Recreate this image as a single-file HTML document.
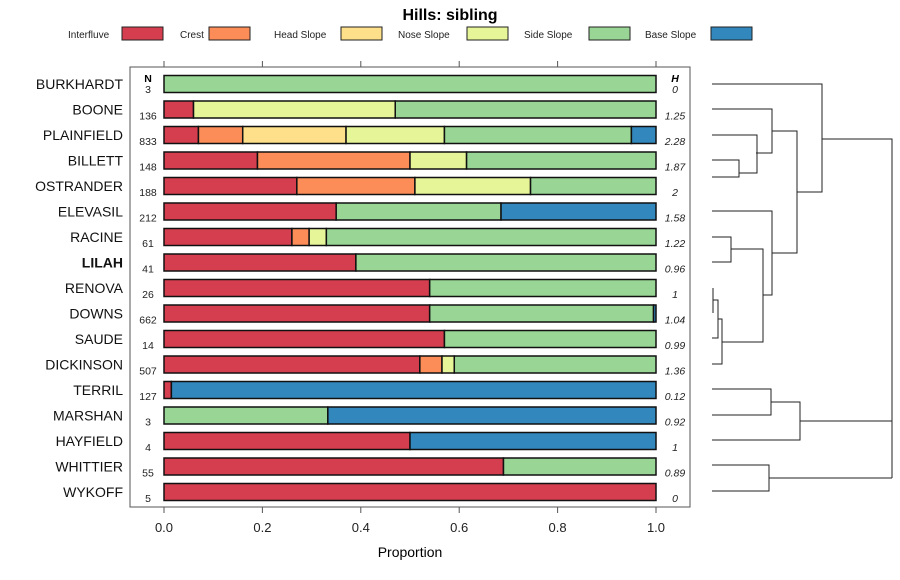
<!DOCTYPE html>
<html><head><meta charset="utf-8"><style>
body{margin:0;background:#fff;}
svg{display:block;font-family:"Liberation Sans",sans-serif;}
</style></head><body>
<svg id="chart" width="900" height="580" viewBox="0 0 900 580">
<text x="450" y="20" text-anchor="middle" font-size="16" font-weight="bold">Hills: sibling</text>
<g id="legend"></g>
<rect x="130" y="67" width="560" height="440" fill="none" stroke="#555" stroke-width="1"/>
<g id="axes"></g>
<g id="bars"></g>
<g id="dendro" stroke-width="1" fill="none"></g>
<text x="410" y="557" text-anchor="middle" font-size="14">Proportion</text>
</svg>
<script>
const classes = ["Interfluve","Crest","Head Slope","Nose Slope","Side Slope","Base Slope"];
const colors = ["#D53E4F","#FC8D59","#FEE08B","#E6F598","#99D594","#3288BD"];
const names = ["BURKHARDT","BOONE","PLAINFIELD","BILLETT","OSTRANDER","ELEVASIL","RACINE","LILAH","RENOVA","DOWNS","SAUDE","DICKINSON","TERRIL","MARSHAN","HAYFIELD","WHITTIER","WYKOFF"];
const nVals = [3,136,833,148,188,212,61,41,26,662,14,507,127,3,4,55,5];
const hVals = ["0","1.25","2.28","1.87","2","1.58","1.22","0.96","1","1.04","0.99","1.36","0.12","0.92","1","0.89","0"];
const interfluve = [0,0.06,0.07,0.19,0.27,0.35,0.26,0.39,0.54,0.54,0.57,0.52,0.015,0,0.5,0.69,1];
const crest      = [0,0,0.09,0.31,0.24,0,0.035,0,0,0,0,0.045,0,0,0,0,0];
const headSlope  = [0,0,0.21,0,0,0,0,0,0,0,0,0,0,0,0,0,0];
const noseSlope  = [0,0.41,0.20,0.115,0.235,0,0.035,0,0,0,0,0.025,0,0,0,0,0];
const sideSlope  = [1,0.53,0.38,0.385,0.255,0.335,0.67,0.61,0.46,0.455,0.43,0.41,0,0.333,0,0.31,0];
const baseSlope  = [0,0,0.05,0,0,0.315,0,0,0,0.005,0,0,0.985,0.667,0.5,0,0];
const xTicks = [0,0.2,0.4,0.6,0.8,1.0];
const xTickLabels = ["0.0","0.2","0.4","0.6","0.8","1.0"];
const boldName = "LILAH";
const dendroLines = [
 [[712,84],[822,84],[822,192],[797,192]],
 [[822,139],[892,139],[892,478]],
 [[800,421],[892,421]],
 [[892,478],[769,478]],
 [[712,109],[772,109],[772,153],[756,153]],
 [[772,131],[797,131],[797,253],[772,253]],
 [[712,135],[757,135],[757,173],[739,173]],
 [[712,160],[739,160],[739,177],[712,177]],
 [[712,211],[772,211],[772,295],[763,295]],
 [[712,237],[731,237],[731,262],[712,262]],
 [[731,249],[763,249],[763,342],[722,342]],
 [[713,288],[713,313]],
 [[713,300],[718,300],[718,338],[712,338]],
 [[718,319],[722,319],[722,364],[712,364]],
 [[712,389],[771,389],[771,415],[712,415]],
 [[771,402],[800,402],[800,440],[712,440]],
 [[712,465],[769,465],[769,491],[712,491]]
];
const NS="http://www.w3.org/2000/svg";
function mk(tag,attrs,parent){const e=document.createElementNS(NS,tag);for(const k in attrs)e.setAttribute(k,attrs[k]);parent.appendChild(e);return e;}
const x0=164,x1=656;
const xScale=v=>x0+(x1-x0)*v;
const rowY=i=>84+i*25.5;
const lg=document.getElementById('legend');
const legX=[[68,122],[180,209],[274,341],[398,467],[524,589],[645,711]];
classes.forEach((c,i)=>{
  const t=mk('text',{x:legX[i][0],y:38,'font-size':10,fill:'#222'},lg);t.textContent=c;
  
  
  const r=mk('rect',{x:legX[i][1],y:27,width:41,height:13,fill:colors[i],stroke:'#222','stroke-width':1},lg);
  
  
});
const ax=document.getElementById('axes');
xTicks.forEach((v,i)=>{
  const x=xScale(v);
  mk('line',{x1:x,y1:507,x2:x,y2:513,stroke:'#555'},ax);
  mk('line',{x1:x,y1:61,x2:x,y2:67,stroke:'#555'},ax);
  const t=mk('text',{x:x,y:532,'text-anchor':'middle','font-size':13,fill:'#222'},ax);t.textContent=xTickLabels[i];
  
  
});
const bg=document.getElementById('bars');
const series=[interfluve,crest,headSlope,noseSlope,sideSlope,baseSlope];
names.forEach((nm,i)=>{
  const y=rowY(i);
  const lab=mk('text',{x:123,y:y+5,'text-anchor':'end','font-size':14,fill:'#111','font-weight':nm===boldName?'bold':'normal'},bg);lab.textContent=nm;
  
  
  const nt=mk('text',{x:148,y:i===0?y+9:y+10,'text-anchor':'middle','font-size':10.5,fill:'#222'},bg);nt.textContent=nVals[i];
  
  
  const ht=mk('text',{x:675,y:i===0?y+9:y+10,'text-anchor':'middle','font-size':10.5,'font-style':'italic',fill:'#222'},bg);ht.textContent=hVals[i];
  
  
  let cum=0;
  series.forEach((s,k)=>{
    if(s[i]<=0)return;
    const r=mk('rect',{x:xScale(cum),y:y-8.5,width:xScale(cum+s[i])-xScale(cum),height:17,fill:colors[k],stroke:'#111','stroke-width':1.5},bg);
    
    
    cum+=s[i];
  });
});
const hdrN=mk('text',{x:148,y:82,'text-anchor':'middle','font-size':10.5,'font-weight':'bold'},bg);hdrN.textContent='N';


const hdrH=mk('text',{x:675,y:82,'text-anchor':'middle','font-size':10.5,'font-weight':'bold','font-style':'italic'},bg);hdrH.textContent='H';


const dg=document.getElementById('dendro');
dendroLines.forEach(p=>{
  const pl=mk('polyline',{points:p.map(q=>q.join(',')).join(' '),stroke:'#222',fill:'none'},dg);
  
  
});
</script>
</body></html>
